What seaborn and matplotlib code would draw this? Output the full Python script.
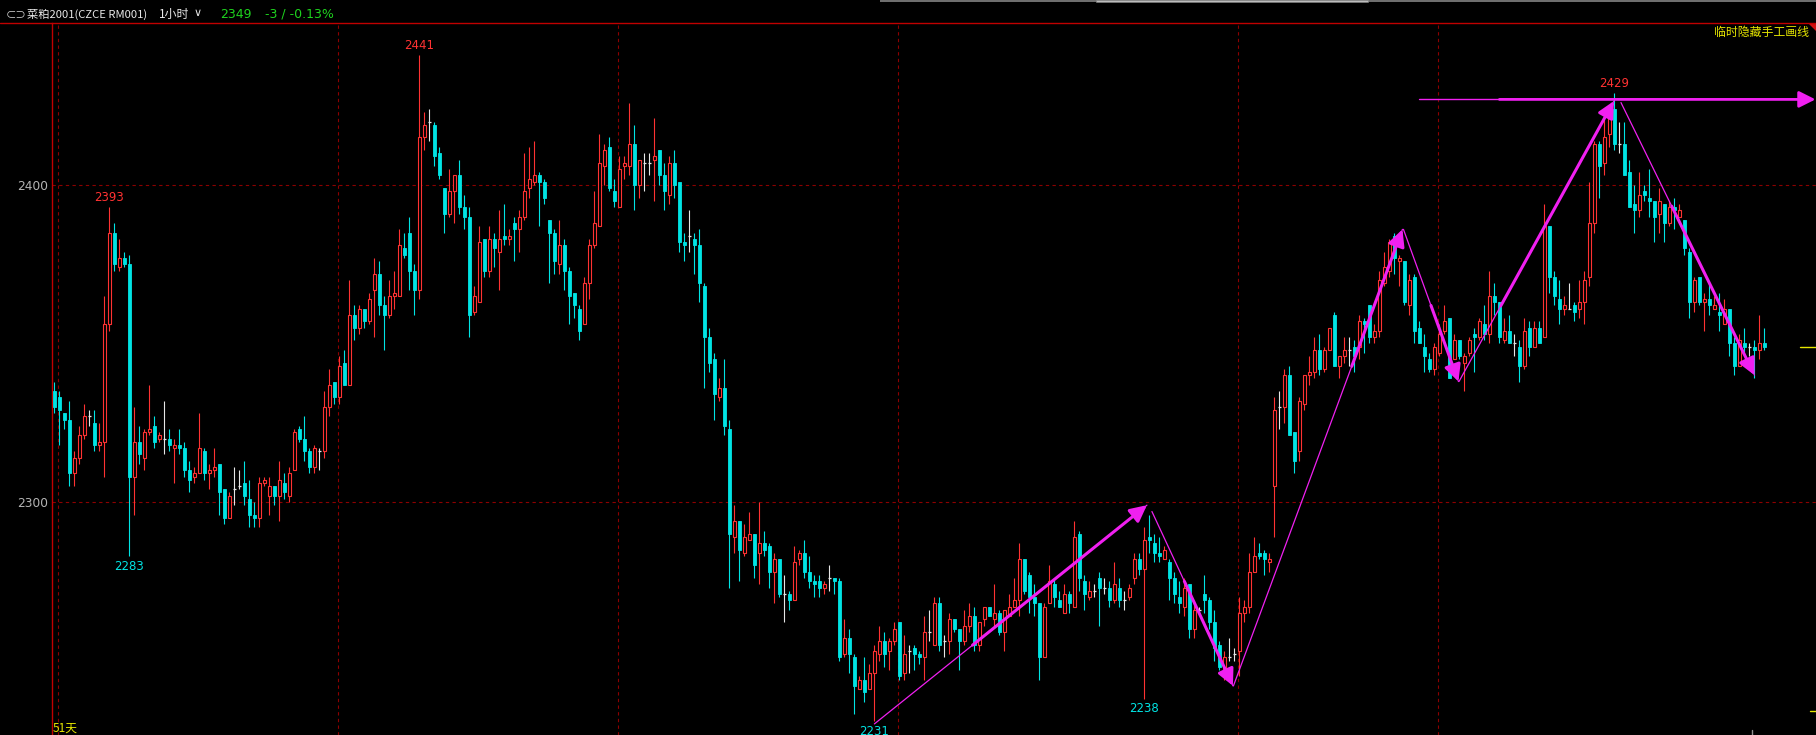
import matplotlib
matplotlib.use("Agg")
import matplotlib.pyplot as plt
import seaborn as sns
import pandas as pd
from matplotlib.patches import Polygon, Rectangle
from matplotlib.lines import Line2D

# ---------------- data (hourly candles, RM001) ----------------
opens = [
    2335, 2333, 2328, 2326, 2309, 2314, 2321, 2327, 2325, 2318,
    2319, 2356, 2385, 2374, 2377, 2375, 2308, 2319, 2314, 2322,
    2324, 2320, 2320, 2320, 2317, 2318, 2317, 2310, 2308, 2309,
    2316, 2309, 2310, 2312, 2304, 2295, 2304, 2305, 2306, 2301,
    2296, 2295, 2306, 2302, 2305, 2302, 2306, 2302, 2310, 2323,
    2320, 2316, 2311, 2316, 2316, 2330, 2338, 2333, 2344, 2337,
    2359, 2355, 2361, 2357, 2367, 2372, 2362, 2359, 2365, 2365,
    2380, 2385, 2373, 2367, 2415, 2420, 2419, 2410, 2399, 2391,
    2398, 2403, 2393, 2390, 2360, 2363, 2383, 2373, 2383, 2379,
    2384, 2383, 2388, 2386, 2390, 2399, 2401, 2403, 2401, 2389,
    2385, 2375, 2381, 2373, 2366, 2361, 2356, 2369, 2381, 2387,
    2406, 2412, 2398, 2393, 2406, 2406, 2413, 2400, 2407, 2407,
    2408, 2411, 2403, 2397, 2407, 2401, 2382, 2384, 2383, 2381,
    2368, 2352, 2345, 2333, 2336, 2323, 2289, 2294, 2284, 2288,
    2290, 2284, 2287, 2286, 2278, 2282, 2271, 2271, 2269, 2282,
    2284, 2278, 2275, 2275, 2273, 2276, 2276, 2275, 2252, 2257,
    2251, 2241, 2244, 2241, 2246, 2252, 2256, 2253, 2256, 2262,
    2246, 2253, 2254, 2252, 2251, 2259, 2255, 2268, 2256, 2256,
    2263, 2260, 2256, 2261, 2264, 2255, 2263, 2267, 2263, 2265,
    2259, 2264, 2267, 2269, 2282, 2277, 2270, 2268, 2251, 2268,
    2274, 2269, 2265, 2271, 2267, 2290, 2275, 2270, 2272, 2276,
    2273, 2273, 2269, 2273, 2269, 2270, 2276, 2282, 2279, 2289,
    2287, 2284, 2282, 2281, 2276, 2270, 2267, 2274, 2260, 2266,
    2271, 2269, 2262, 2255, 2245, 2251, 2252, 2253, 2265, 2267,
    2278, 2284, 2284, 2281, 2305, 2330, 2330, 2340, 2322, 2316,
    2331, 2340, 2341, 2348, 2342, 2348, 2359, 2343, 2346, 2348,
    2349, 2349, 2357, 2362, 2352, 2354, 2369, 2373, 2384, 2376,
    2376, 2362, 2371, 2355, 2349, 2345, 2342, 2347, 2354, 2358,
    2345, 2351, 2344, 2347, 2353, 2352, 2356, 2353, 2365, 2363,
    2351, 2354, 2350, 2349, 2343, 2355, 2349, 2355, 2352, 2387,
    2371, 2364, 2361, 2361, 2362, 2361, 2363, 2371, 2388, 2413,
    2407, 2416, 2424, 2413, 2413, 2404, 2394, 2392, 2398, 2396,
    2395, 2391, 2394, 2388, 2393, 2390, 2389, 2379, 2363, 2371,
    2363, 2364, 2361, 2360, 2356, 2361, 2350, 2343, 2350, 2349,
    2349, 2348, 2350,
]
highs = [
    2338, 2335, 2328, 2332, 2316, 2324, 2331, 2329, 2329, 2325,
    2365, 2393, 2388, 2383, 2379, 2378, 2330, 2324, 2323, 2337,
    2327, 2322, 2332, 2323, 2320, 2323, 2319, 2313, 2311, 2328,
    2317, 2312, 2317, 2312, 2304, 2303, 2311, 2310, 2313, 2307,
    2300, 2308, 2308, 2308, 2305, 2313, 2309, 2311, 2323, 2324,
    2327, 2317, 2318, 2317, 2335, 2342, 2338, 2346, 2348, 2370,
    2362, 2362, 2361, 2366, 2377, 2376, 2365, 2370, 2373, 2386,
    2385, 2390, 2375, 2441, 2423, 2424, 2420, 2412, 2399, 2405,
    2403, 2408, 2397, 2393, 2368, 2387, 2383, 2387, 2385, 2392,
    2394, 2386, 2390, 2392, 2410, 2412, 2414, 2404, 2402, 2389,
    2386, 2389, 2383, 2374, 2366, 2362, 2371, 2383, 2398, 2416,
    2413, 2415, 2402, 2409, 2409, 2426, 2419, 2408, 2410, 2410,
    2421, 2411, 2407, 2409, 2411, 2401, 2385, 2392, 2385, 2386,
    2369, 2355, 2347, 2339, 2345, 2326, 2299, 2294, 2293, 2297,
    2290, 2300, 2291, 2287, 2284, 2282, 2277, 2272, 2286, 2285,
    2288, 2283, 2277, 2277, 2275, 2280, 2276, 2276, 2263, 2260,
    2252, 2245, 2251, 2249, 2255, 2261, 2259, 2257, 2262, 2262,
    2258, 2255, 2255, 2253, 2264, 2266, 2270, 2270, 2258, 2265,
    2263, 2260, 2266, 2268, 2267, 2262, 2267, 2267, 2274, 2266,
    2266, 2271, 2276, 2287, 2282, 2278, 2274, 2268, 2268, 2280,
    2276, 2272, 2274, 2272, 2294, 2291, 2277, 2275, 2274, 2278,
    2276, 2275, 2281, 2276, 2272, 2274, 2284, 2284, 2292, 2296,
    2290, 2289, 2286, 2282, 2278, 2275, 2276, 2274, 2269, 2267,
    2277, 2270, 2266, 2256, 2253, 2257, 2254, 2270, 2269, 2284,
    2289, 2287, 2285, 2284, 2333, 2335, 2342, 2343, 2322, 2333,
    2340, 2346, 2352, 2353, 2349, 2355, 2360, 2346, 2352, 2352,
    2351, 2359, 2358, 2362, 2356, 2373, 2379, 2383, 2385, 2378,
    2376, 2372, 2372, 2357, 2353, 2347, 2350, 2356, 2362, 2358,
    2353, 2351, 2347, 2352, 2355, 2358, 2362, 2373, 2369, 2363,
    2358, 2359, 2353, 2351, 2358, 2357, 2357, 2357, 2394, 2387,
    2373, 2370, 2365, 2369, 2363, 2370, 2373, 2401, 2414, 2414,
    2423, 2423, 2429, 2420, 2420, 2408, 2400, 2404, 2400, 2405,
    2395, 2399, 2394, 2395, 2396, 2394, 2389, 2380, 2371, 2371,
    2366, 2369, 2365, 2366, 2364, 2361, 2352, 2353, 2355, 2350,
    2351, 2359, 2355,
]
lows = [
    2328, 2318, 2323, 2305, 2305, 2312, 2320, 2324, 2316, 2316,
    2308, 2354, 2373, 2373, 2374, 2283, 2296, 2312, 2310, 2321,
    2317, 2319, 2315, 2316, 2306, 2315, 2308, 2303, 2306, 2309,
    2307, 2304, 2308, 2296, 2293, 2295, 2299, 2304, 2299, 2292,
    2292, 2292, 2305, 2296, 2299, 2294, 2301, 2300, 2310, 2319,
    2313, 2309, 2309, 2310, 2314, 2327, 2331, 2331, 2337, 2337,
    2351, 2353, 2355, 2356, 2352, 2359, 2348, 2358, 2361, 2365,
    2377, 2367, 2359, 2364, 2411, 2414, 2406, 2402, 2385, 2390,
    2388, 2391, 2386, 2352, 2359, 2363, 2371, 2371, 2374, 2367,
    2381, 2381, 2376, 2379, 2389, 2396, 2400, 2387, 2394, 2369,
    2372, 2372, 2367, 2356, 2358, 2351, 2356, 2364, 2380, 2387,
    2400, 2398, 2393, 2393, 2402, 2403, 2392, 2396, 2398, 2403,
    2395, 2400, 2392, 2394, 2396, 2379, 2376, 2379, 2372, 2363,
    2336, 2341, 2326, 2332, 2321, 2273, 2284, 2275, 2283, 2288,
    2276, 2274, 2283, 2273, 2268, 2270, 2262, 2266, 2269, 2280,
    2276, 2273, 2270, 2270, 2271, 2272, 2271, 2250, 2251, 2246,
    2233, 2241, 2237, 2241, 2231, 2250, 2248, 2247, 2255, 2244,
    2244, 2246, 2247, 2249, 2244, 2256, 2255, 2253, 2251, 2252,
    2259, 2247, 2255, 2259, 2253, 2253, 2261, 2264, 2261, 2258,
    2253, 2264, 2267, 2264, 2271, 2265, 2264, 2244, 2251, 2268,
    2267, 2267, 2265, 2265, 2267, 2272, 2266, 2269, 2270, 2261,
    2271, 2267, 2268, 2267, 2266, 2269, 2274, 2277, 2238, 2284,
    2281, 2281, 2282, 2269, 2268, 2265, 2264, 2257, 2257, 2265,
    2265, 2260, 2250, 2247, 2244, 2250, 2250, 2245, 2262, 2265,
    2278, 2282, 2277, 2278, 2289, 2323, 2325, 2321, 2309, 2313,
    2329, 2337, 2339, 2340, 2341, 2348, 2343, 2339, 2344, 2343,
    2341, 2345, 2347, 2350, 2350, 2352, 2368, 2371, 2372, 2368,
    2362, 2359, 2350, 2350, 2341, 2341, 2340, 2346, 2353, 2339,
    2345, 2345, 2335, 2346, 2341, 2351, 2351, 2350, 2359, 2350,
    2350, 2350, 2346, 2338, 2342, 2346, 2349, 2350, 2352, 2366,
    2362, 2356, 2359, 2361, 2357, 2358, 2356, 2368, 2385, 2396,
    2403, 2412, 2411, 2410, 2403, 2393, 2385, 2390, 2395, 2390,
    2382, 2385, 2382, 2387, 2386, 2390, 2378, 2358, 2360, 2362,
    2354, 2359, 2361, 2354, 2356, 2346, 2340, 2343, 2347, 2346,
    2339, 2345, 2348,
]
closes = [
    2330, 2329, 2326, 2309, 2314, 2321, 2327, 2327, 2318, 2319,
    2356, 2385, 2375, 2377, 2375, 2308, 2319, 2315, 2322, 2323,
    2319, 2321, 2320, 2318, 2318, 2317, 2310, 2307, 2309, 2317,
    2309, 2310, 2311, 2303, 2295, 2302, 2304, 2305, 2302, 2296,
    2295, 2306, 2307, 2305, 2302, 2307, 2303, 2309, 2322, 2320,
    2316, 2311, 2317, 2316, 2330, 2337, 2333, 2343, 2337, 2359,
    2355, 2361, 2357, 2364, 2372, 2362, 2359, 2365, 2366, 2381,
    2378, 2373, 2367, 2415, 2419, 2420, 2409, 2403, 2391, 2398,
    2403, 2393, 2390, 2359, 2365, 2382, 2373, 2383, 2380, 2383,
    2383, 2384, 2386, 2390, 2398, 2402, 2403, 2401, 2396, 2385,
    2376, 2381, 2373, 2365, 2362, 2354, 2369, 2381, 2388, 2407,
    2411, 2399, 2395, 2405, 2407, 2413, 2400, 2408, 2407, 2407,
    2409, 2403, 2398, 2407, 2400, 2382, 2381, 2384, 2381, 2369,
    2352, 2344, 2334, 2336, 2324, 2290, 2294, 2285, 2289, 2290,
    2280, 2287, 2285, 2278, 2282, 2271, 2271, 2269, 2281, 2284,
    2278, 2275, 2274, 2273, 2274, 2276, 2275, 2251, 2257, 2252,
    2242, 2244, 2240, 2246, 2253, 2256, 2252, 2256, 2260, 2245,
    2252, 2253, 2252, 2251, 2259, 2259, 2268, 2255, 2256, 2263,
    2260, 2256, 2261, 2264, 2255, 2262, 2267, 2264, 2265, 2259,
    2266, 2267, 2269, 2282, 2272, 2270, 2268, 2251, 2267, 2275,
    2270, 2267, 2271, 2268, 2289, 2276, 2271, 2272, 2272, 2273,
    2273, 2269, 2274, 2269, 2269, 2273, 2282, 2279, 2288, 2288,
    2284, 2283, 2285, 2276, 2271, 2268, 2273, 2260, 2266, 2266,
    2269, 2262, 2254, 2248, 2251, 2251, 2252, 2265, 2267, 2278,
    2283, 2283, 2282, 2282, 2329, 2330, 2340, 2321, 2313, 2332,
    2340, 2341, 2348, 2342, 2348, 2355, 2343, 2346, 2348, 2348,
    2346, 2357, 2356, 2352, 2354, 2370, 2374, 2382, 2377, 2377,
    2363, 2370, 2354, 2350, 2346, 2342, 2349, 2353, 2357, 2339,
    2351, 2346, 2346, 2351, 2352, 2357, 2353, 2365, 2363, 2352,
    2354, 2350, 2350, 2343, 2354, 2349, 2355, 2350, 2387, 2371,
    2365, 2361, 2362, 2361, 2360, 2363, 2370, 2388, 2413, 2406,
    2415, 2421, 2413, 2413, 2403, 2393, 2392, 2397, 2397, 2395,
    2390, 2395, 2388, 2393, 2392, 2392, 2380, 2363, 2370, 2363,
    2364, 2362, 2362, 2359, 2361, 2350, 2343, 2351, 2349, 2349,
    2348, 2350, 2349,
]

# session (day) boundaries: index of first candle of each new session
session_starts = [1, 57, 113, 169, 237, 277]
# annotated extremes
peak_marks = [11, 73, 312]
trough_marks = [15, 164, 218]
# hand-drawn zig-zag (candle index, price) and share of each leg drawn thick
leg_x0 = [164.0, 219.5, 235.8, 269.8, 280.9, 313.3]
leg_y0 = [2230.0, 2297.0, 2242.0, 2386.0, 2338.0, 2426.0]
leg_x1 = [218.5, 235.7, 269.6, 280.8, 311.9, 340.0]
leg_y1 = [2299.0, 2242.0, 2386.0, 2338.0, 2426.5, 2340.0]
leg_thick = [0.64, 0.60, 0.30, 0.50, 0.73, 0.62]
hline_price = 2427.0
hline_x = [272.9, 289.0, 352.2]
grid_prices = [2300, 2400]

# ---------------- style ----------------
W, H, DPI = 1816, 735, 100
sns.set_theme(style="dark", rc={"axes.facecolor": "black", "figure.facecolor": "black",
                               "savefig.facecolor": "black"})
plt.rcParams["font.family"] = ["DejaVu Sans", "Noto Sans CJK SC"]
CJK = ["Noto Sans CJK SC", "DejaVu Sans"]

RED = "#ff3232"
CYAN = "#00e4e4"
WHITE = "#e6e6e6"
MAG = "#f020f0"
GRID = "#8c0000"
LINE = "#c00000"
YEL = "#e6e600"

df = pd.DataFrame({"o": opens, "h": highs, "l": lows, "c": closes})
df["i"] = range(len(df))

fig = plt.figure(figsize=(W / DPI, H / DPI), dpi=DPI)
ax = fig.add_axes([52 / W, 0, (W - 52) / W, (H - 23) / H])
ax.set_facecolor("black")
ax.set_xlim(-0.46, 352.3)
ax.set_ylim(2226.5, 2451.1)


def fx(px):
    return px / W


def fy(py):
    return 1 - py / H


# grid
for gp in grid_prices:
    ax.axhline(gp, color=GRID, lw=0.8, ls=(0, (3, 3)), zorder=0)
for s in session_starts:
    ax.axvline(s - 0.35, color=GRID, lw=0.8, ls=(0, (3, 3)), zorder=0)

# candles
colors = []
for o, c in zip(df.o, df.c):
    colors.append(RED if c > o else (CYAN if c < o else WHITE))
df["col"] = colors

ax.vlines(df.i, df.l, df.h, colors=df.col, lw=0.8, zorder=2)
up = df[df.c > df.o]
dn = df[df.c < df.o]
dj = df[df.c == df.o]
ax.bar(up.i, up.c - up.o, bottom=up.o, width=0.62, facecolor="black",
       edgecolor=RED, linewidth=0.8, zorder=3)
ax.bar(dn.i, dn.o - dn.c, bottom=dn.c, width=0.62, facecolor=CYAN,
       edgecolor=CYAN, linewidth=0.6, zorder=3)
ax.hlines(dj.c, dj.i - 0.32, dj.i + 0.32, colors=WHITE, lw=0.9, zorder=3)

# extreme labels
for k in peak_marks:
    ax.annotate(f"{highs[k]}", (k, highs[k]), xytext=(0, 7), textcoords="offset points",
                ha="center", va="center", color=RED, fontsize=8.5)
for k in trough_marks:
    ax.annotate(f"{lows[k]}", (k, lows[k]), xytext=(0, -7.5), textcoords="offset points",
                ha="center", va="center", color=CYAN, fontsize=8.5)

# hand-drawn zig-zag
seg = pd.DataFrame({"x0": leg_x0, "y0": leg_y0, "x1": leg_x1, "y1": leg_y1, "f": leg_thick})
for r in seg.itertuples():
    sns.lineplot(x=[r.x0, r.x1], y=[r.y0, r.y1], ax=ax, color=MAG, lw=0.9,
                 zorder=5, estimator=None, sort=False)
    xs = r.x1 - r.f * (r.x1 - r.x0)
    ys = r.y1 - r.f * (r.y1 - r.y0)
    ax.annotate("", xy=(r.x1, r.y1), xytext=(xs, ys),
                arrowprops=dict(arrowstyle="-|>,head_length=0.9,head_width=0.45",
                                color=MAG, lw=2.2, shrinkA=0, shrinkB=0,
                                mutation_scale=11), zorder=6)

# horizontal resistance line
ax.plot([hline_x[0], hline_x[1]], [hline_price, hline_price], color=MAG, lw=1.0, zorder=5)
ax.annotate("", xy=(hline_x[2], hline_price), xytext=(hline_x[1], hline_price),
            arrowprops=dict(arrowstyle="-|>,head_length=0.9,head_width=0.45",
                            color=MAG, lw=2.0, shrinkA=0, shrinkB=0,
                            mutation_scale=11), annotation_clip=False, zorder=6)

# right-edge price markers
ax.plot([349.1, 352.3], [closes[-1], closes[-1]], color=YEL, lw=1.0, clip_on=False, zorder=4)
ax.plot([351.1, 352.3], [2234, 2234], color=YEL, lw=1.0, clip_on=False, zorder=4)
ax.plot([339.6, 339.6], [2226.5, 2228.0], color="#909090", lw=1.0, zorder=4)

# axes look
for side in ["top", "right", "bottom"]:
    ax.spines[side].set_visible(False)
ax.spines["left"].set_color(LINE)
ax.spines["left"].set_linewidth(1.0)
ax.set_xticks([])
ax.set_yticks(grid_prices)
ax.set_yticklabels([str(g) for g in grid_prices])
ax.tick_params(axis="y", length=0, pad=3, labelcolor="#b4b4b4", labelsize=8.8)
ax.grid(False)

# header
fig.add_artist(Line2D([0, 1], [fy(23.3), fy(23.3)], color=LINE, lw=1.0))
fig.add_artist(Rectangle((fx(880), fy(2.2)), fx(936), 2.2 / H, color="#6e6e6e", lw=0))
fig.add_artist(Rectangle((fx(1096), fy(1.8)), fx(272), 1.8 / H, facecolor="#bcbcbc",
                         edgecolor="#808080", lw=0.4))
fig.text(fx(6), fy(14), "⊂⊃", color="#d0d0d0", fontsize=7.5, va="center", ha="left",
         family=CJK)
fig.text(fx(27), fy(14), "菜粕2001(CZCE RM001)", color="#e6e6e6", fontsize=8.1,
         va="center", ha="left", family=CJK)
fig.text(fx(159), fy(14), "1小时", color="#e6e6e6", fontsize=8.6, va="center", ha="left",
         family=CJK)
fig.text(fx(194), fy(13), "∨", color="#e6e6e6", fontsize=8, va="center", ha="left")
fig.text(fx(220), fy(14), f"{closes[-1]}", color="#1ed21e", fontsize=9, va="center",
         ha="left")
fig.text(fx(265), fy(14), "-3 / -0.13%", color="#1ed21e", fontsize=9, va="center",
         ha="left")
fig.text(fx(1809), fy(32), "临时隐藏手工画线", color=YEL, fontsize=8.6, va="center",
         ha="right", family=CJK)
fig.add_artist(Polygon([(fx(1809), fy(24)), (fx(1816), fy(24)), (fx(1816), fy(31))],
                       closed=True, color="#d01010", lw=0))
fig.text(fx(53), fy(735), "51天", color=YEL, fontsize=8.5, va="bottom", ha="left",
         family=CJK)

fig.savefig("out.png", dpi=DPI, facecolor="black")
